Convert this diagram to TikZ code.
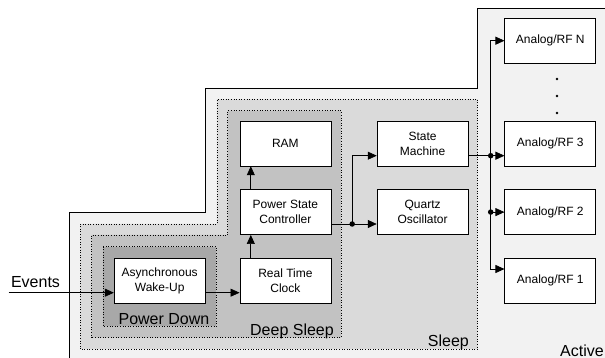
\documentclass[tikz,border=0pt]{standalone}
\usepackage{fontspec}
\setmainfont{Liberation Sans}
\usetikzlibrary{arrows.meta}
\usetikzlibrary{positioning}

\definecolor{activegray}{HTML}{F2F2F2}
\definecolor{sleepgray}{HTML}{DADADA}
\definecolor{deepgray}{HTML}{C2C2C2}
\definecolor{downgray}{HTML}{A8A8A8}

\begin{document}
\begin{tikzpicture}[
    x=1pt, y=-1pt,
    node distance=23pt and 34pt,
    block/.style={draw, fill=white, line width=0.7pt, minimum width=91pt, minimum height=45pt,
                  align=center, font=\fontsize{12}{15}\selectfont},
    arr/.style={line width=0.7pt, -{Triangle[length=9pt,width=8pt]}},
    wire/.style={line width=0.7pt},
    junction/.style={circle, fill, inner sep=0pt, minimum size=5.5pt},
    zone/.style={font=\fontsize{16}{16}\selectfont, anchor=base east, inner sep=0pt},
    region/.style={dotted, line width=0.6pt},
 ]
    \clip (0,0) rectangle (605,358);

    % nested power regions
    \draw[fill=activegray, line width=0.8pt] (69,370) -- (69,212.7) -- (205.3,212.7) -- (205.3,88)
        -- (477.6,88) -- (477.6,8.3) -- (620,8.3) -- (620,370) -- cycle;
    \draw[region, fill=sleepgray] (80.2,349) -- (80.2,224) -- (216.8,224) -- (216.8,99.3)
        -- (477.6,99.3) -- (477.6,349) -- cycle;
    \draw[region, fill=deepgray] (91.4,337.7) -- (91.4,235) -- (227.6,235) -- (227.6,110.7)
        -- (341,110.7) -- (341,337.7) -- cycle;
    \draw[region, fill=downgray] (103,246.7) rectangle (216.4,326);

    \node[zone] (Lactive) at (604,356) {Active};
    \node[zone] (Lsleep) at (469,346) {Sleep};
    \node[zone] (Ldeep) at (334,335.5) {Deep Sleep};
    \node[zone] (Ldown) at (209.5,324.7) {Power Down};

    % blocks
    \node[block] (async) at (159.7,280.8) {Asynchronous\\Wake-Up};
    \node[block, right=of async] (rtc) {Real Time\\Clock};
    \node[block, above=of rtc] (psc) {Power State\\Controller};
    \node[block, above=of psc] (ram) {RAM};
    \node[block, right=45.5pt of ram] (sm) {State\\Machine};
    \node[block, right=45.5pt of psc] (qo) {Quartz\\Oscillator};
    \node[block, right=36pt of sm] (rf3) {Analog/RF 3};
    \node[block, right=36pt of qo] (rf2) {Analog/RF 2};
    \node[block, below=of rf2] (rf1) {Analog/RF 1};
    \node[block, above=57pt of rf3] (rfN) {Analog/RF N};
    \foreach \i/\y in {1/79,2/96,3/113}
        \node[junction, minimum size=2.8pt] (vd\i) at (557,\y) {};

    % signals
    \node[font=\fontsize{16}{16}\selectfont] (events) at (35.5,281.7) {Events};
    \coordinate (in) at (8.5,292.7);
    \coordinate (up) at (250.8,0);
    \coordinate (split) at (352.2,224);
    \coordinate (smrow) at (0,155.7);
    \coordinate (bus) at (490.7,0);

    \draw[arr] (in) -- (in -| async.west);
    \draw[arr] (in -| async.east) -- (in -| rtc.west);
    \draw[arr] (rtc.north -| up) -- (psc.south -| up);
    \draw[arr] (psc.north -| up) -- (ram.south -| up);

    \draw[wire] (psc.east |- split) -- (split);
    \draw[arr] (split) -- (qo.west |- split);
    \draw[arr] (split) |- (sm.west |- smrow);
    \node[junction] (j1) at (split) {};

    \draw[wire] (sm.east |- smrow) -- (bus |- smrow);
    \draw[arr] (bus |- smrow) -- (rf3.west |- smrow);
    \draw[wire, {Triangle[length=9pt,width=8pt]}-{Triangle[length=9pt,width=8pt]}]
        (rfN.west) -| (bus |- 0,269) -- (rf1.west |- 0,269);
    \draw[arr] (bus |- rf2.west) -- (rf2.west);
    \node[junction] (j2) at (bus |- smrow) {};
    \node[junction] (j3) at (bus |- rf2.west) {};
\end{tikzpicture}
\end{document}
